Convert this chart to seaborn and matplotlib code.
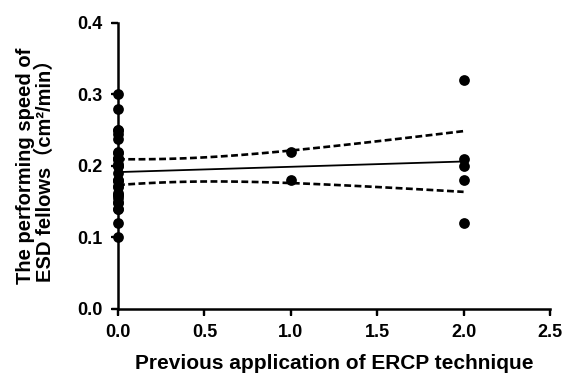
import numpy as np
import pandas as pd
import matplotlib
matplotlib.use("Agg")
import matplotlib.pyplot as plt
import seaborn as sns

# data (many points at 0 overlap)
x0_speed = [0.30, 0.28, 0.25, 0.245, 0.238, 0.218, 0.211, 0.203, 0.179,
            0.172, 0.162, 0.155, 0.148, 0.14, 0.12, 0.10,
            0.20, 0.19, 0.18, 0.17, 0.16, 0.15, 0.14, 0.20, 0.21, 0.22,
            0.21, 0.25, 0.18, 0.16]
x1_speed = [0.22, 0.18]
x2_speed = [0.32, 0.21, 0.20, 0.18, 0.12]

x_ticks = [0.0, 0.5, 1.0, 1.5, 2.0, 2.5]
y_ticks = [0.0, 0.1, 0.2, 0.3, 0.4]

df = pd.DataFrame({
    "ercp": [0] * len(x0_speed) + [1] * len(x1_speed) + [2] * len(x2_speed),
    "speed": x0_speed + x1_speed + x2_speed,
})

# linear fit with 95% confidence band
x = df["ercp"].to_numpy(float)
y = df["speed"].to_numpy(float)
n = len(x)
slope, intercept = np.polyfit(x, y, 1)
resid = y - (slope * x + intercept)
s = np.sqrt(np.sum(resid ** 2) / (n - 2))
t_crit = 2.030  # t(0.975, df=35)
xs = np.linspace(x.min(), x.max(), 100)
fit = slope * xs + intercept
se = s * np.sqrt(1 / n + (xs - x.mean()) ** 2 / np.sum((x - x.mean()) ** 2))

# plain matplotlib style, ticks drawn outward
plt.rcParams['font.family'] = ['Liberation Sans', 'Noto Sans CJK SC']
plt.rcParams['xtick.direction'] = 'out'
plt.rcParams['ytick.direction'] = 'out'

fig = plt.figure(figsize=(5.68, 3.73), dpi=100)
ax = fig.add_axes([0.2077, 0.1716, 0.7606, 0.767])

sns.scatterplot(data=df, x="ercp", y="speed", color="black", s=60,
                edgecolor="black", linewidth=0, ax=ax, zorder=3, clip_on=False)
ax.plot(xs, fit, color="black", lw=1.3)
ax.plot(xs, fit + t_crit * se, color="black", lw=1.9, ls=(0, (2.6, 1.3)))
ax.plot(xs, fit - t_crit * se, color="black", lw=1.9, ls=(0, (2.6, 1.3)))

ax.set_xlim(0, 2.5)
ax.set_ylim(0, 0.4)
ax.set_xticks(x_ticks)
ax.set_yticks(y_ticks)
ax.set_xticklabels([f"{v:.1f}" for v in x_ticks], fontweight="bold", fontsize=13)
ax.set_yticklabels([f"{v:.1f}" for v in y_ticks], fontweight="bold", fontsize=13)

ax.spines["top"].set_visible(False)
ax.spines["right"].set_visible(False)
for side in ["left", "bottom"]:
    ax.spines[side].set_linewidth(1.8)
    ax.spines[side].set_color("black")
ax.tick_params(axis="both", which="major", direction="out", length=5,
               width=1.6, color="black", pad=6)

# outward tick marks, placed from the tick lists
ax.vlines(x_ticks, -0.021, 0, transform=ax.get_xaxis_transform(),
          color="black", lw=1.6, clip_on=False)
ax.hlines(y_ticks, -0.014, 0, transform=ax.get_yaxis_transform(),
          color="black", lw=1.6, clip_on=False)

ax.set_xlabel("Previous application of ERCP technique", fontweight="bold",
              fontsize=15, labelpad=9)
ax.set_ylabel("The performing speed of\nESD fellows（cm²/min）",
              fontweight="bold", fontsize=14.5, labelpad=16, linespacing=1.05)

fig.savefig("out.png", dpi=100, facecolor="white")
